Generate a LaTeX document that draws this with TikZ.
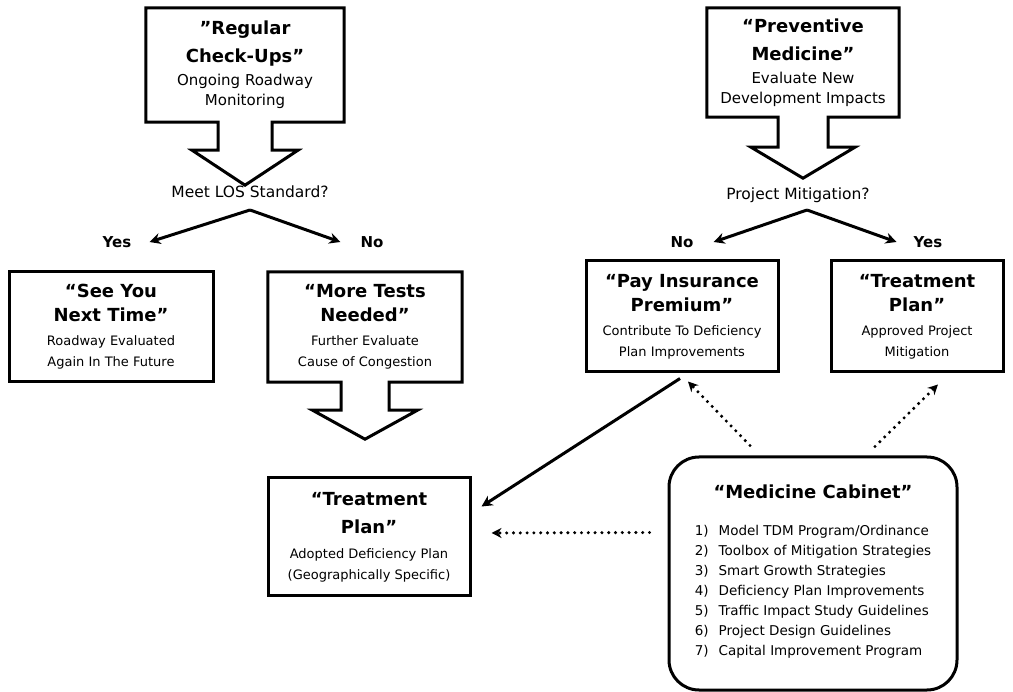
\documentclass[tikz,border=0pt]{standalone}
\usepackage{fontspec}
\setmainfont{DejaVu Sans}
\usetikzlibrary{calc,arrows.meta}
\newcommand\blkarrow[5]{%
  \draw[outline] (#1.north west) -- (#1.north east) -- (#1.south east)
   -- ($(#1.south)+(#2,0)$) -- ($(#1.south)+(#2,#4)$) -- ($(#1.south)+(#3,#4)$)
   -- ($(#1.south)+(0,#5)$) -- ($(#1.south)+(-#3,#4)$) -- ($(#1.south)+(-#2,#4)$)
   -- ($(#1.south)+(-#2,0)$) -- (#1.south west) -- cycle;}
\newcommand\ttl{\bfseries\fontsize{18}{21}\selectfont}
\newcommand\sbt{\fontsize{13}{21}\selectfont}
\newcommand\sbtbig{\fontsize{15}{20}\selectfont}
\begin{document}
\begin{tikzpicture}[x=1pt,y=-1pt,line join=miter,
  outline/.style={draw,line width=3pt},
  plain/.style={inner sep=0pt,align=center},
  frame/.style={draw,line width=3pt,inner sep=0pt,align=center},
  conn/.style={line width=3pt,-{Stealth[length=11pt,width=11pt]}},
  dotconn/.style={line width=3.4pt,line cap=round,dash pattern=on 0pt off 6.8pt,
     -{Stealth[length=10pt,width=10pt]}},
  qtext/.style={inner sep=0pt,font=\fontsize{15.5}{18}\selectfont},
  yn/.style={inner sep=0pt,font=\bfseries\fontsize{15}{18}\selectfont}]
\useasboundingbox[fill=white] (0,0) rectangle (1013,692);

% top-left block arrow
\node[plain,minimum width=198pt,minimum height=114pt,font=\fontsize{15}{20}\selectfont] (rc) at (245,65)
  {{\ttl "Regular}\\[8pt]{\ttl Check-Ups"}\\[3pt]{\sbtbig Ongoing Roadway}\\{\sbtbig Monitoring}};
\blkarrow{rc}{27}{53}{28}{63}
\node[qtext] (q1) at (250,192) {Meet LOS Standard?};
\coordinate (a1) at (250,210);
\node[yn] (y1) at (117,242) {Yes};
\node[yn] (n1) at (372,242) {No};
\draw[conn] (a1) -- ($(y1.east)+(18,0)$);
\draw[conn] (a1) -- ($(n1.west)+(-20,0)$);

% top-right block arrow
\node[plain,minimum width=192pt,minimum height=109pt,font=\fontsize{15}{20}\selectfont] (pm) at (803,62.5)
  {{\ttl “Preventive}\\[8pt]{\ttl Medicine”}\\[3pt]{\sbtbig Evaluate New}\\{\sbtbig Development Impacts}};
\blkarrow{pm}{25}{52}{30}{61}
\node[qtext] (q2) at (798,195) {Project Mitigation?};
\coordinate (a2) at (807,210);
\node[yn] (n2) at (682,242) {No};
\node[yn] (y2) at (928,242) {Yes};
\draw[conn] (a2) -- ($(n2.east)+(20,0)$);
\draw[conn] (a2) -- ($(y2.west)+(-17,0)$);

% second row
\node[frame,minimum width=204pt,minimum height=110pt,font=\sbt] (sy) at (111,327)
  {{\ttl “See You}\\[3pt]{\ttl Next Time”}\\[3pt]Roadway Evaluated\\Again In The Future};
\node[plain,minimum width=194pt,minimum height=110pt,font=\sbt] (mt) at (365,327)
  {{\ttl “More Tests}\\[3pt]{\ttl Needed”}\\[3pt]Further Evaluate\\Cause of Congestion};
\blkarrow{mt}{24}{52.5}{28}{57}
\node[frame,minimum width=192pt,minimum height=111pt,font=\sbt] (pay) at (682,316.5)
  {{\ttl “Pay Insurance}\\[3pt]{\ttl Premium”}\\[3pt]Contribute To Deficiency\\Plan Improvements};
\node[frame,minimum width=172pt,minimum height=111pt,font=\sbt] (tr) at (917,316.5)
  {{\ttl “Treatment}\\[3pt]{\ttl Plan”}\\[3pt]Approved Project\\Mitigation};

% bottom
\node[frame,minimum width=202pt,minimum height=118pt,font=\sbt] (tp) at (369,537)
  {{\ttl “Treatment}\\[7pt]{\ttl Plan”}\\[4pt]Adopted Deficiency Plan\\(Geographically Specific)};
\node[frame,rounded corners=30pt,minimum width=288pt,minimum height=233pt] (cab) at (813,573.5)
  {{\ttl “Medicine Cabinet”}\\[22pt]
   {\fontsize{13.5}{20}\selectfont
   \begin{tabular}{@{}l@{\hspace{10pt}}l@{}}
   1) & Model TDM Program/Ordinance\\
   2) & Toolbox of Mitigation Strategies\\
   3) & Smart Growth Strategies\\
   4) & Deficiency Plan Improvements\\
   5) & Traffic Impact Study Guidelines\\
   6) & Project Design Guidelines\\
   7) & Capital Improvement Program
   \end{tabular}}};

% connectors
\draw[conn] ($(pay.south)+(-2,5)$) -- ($(tp.north east)+(10,30)$);
\draw[dotconn] ($(cab.north)+(-63,-10)$) -- ($(pay.south)+(6,8)$);
\draw[dotconn] ($(cab.north)+(62,-9)$) -- ($(tr.south)+(21,11)$);
\draw[dotconn] ($(cab.west)+(-18,-41)$) -- ($(tp.east)+(20,-4)$);
\end{tikzpicture}
\end{document}
